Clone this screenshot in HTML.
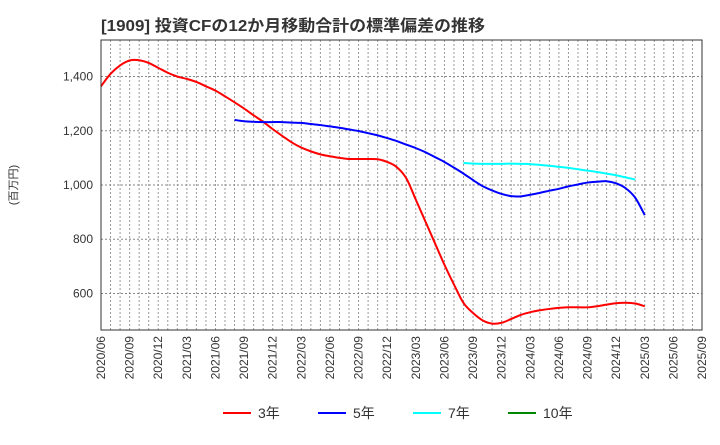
<!DOCTYPE html>
<html><head><meta charset="utf-8"><style>
body{margin:0;background:#fff;font-family:"Liberation Sans","Noto Sans CJK JP",sans-serif;}
</style></head><body>
<svg width="720" height="440" xmlns="http://www.w3.org/2000/svg" id="chart">
<text x="101" y="31" font-size="16" font-weight="bold" fill="#333" textLength="384" lengthAdjust="spacingAndGlyphs" font-family="Liberation Sans, Noto Sans CJK JP, sans-serif">[1909]  投資CFの12か月移動合計の標準偏差の推移</text>
<text transform="translate(17,185) rotate(-90)" text-anchor="middle" font-size="11" fill="#333" font-family="Liberation Sans, Noto Sans CJK JP, sans-serif">(百万円)</text>
<g id="grid"></g><g id="series"></g><g id="axes"></g>
<g font-size="14" fill="#333" font-family="Liberation Sans, Noto Sans CJK JP, sans-serif">
<g><line x1="223" y1="413" x2="251" y2="413" stroke="#f00" stroke-width="2"/><text x="258" y="418">3年</text></g>
<g><line x1="318" y1="413" x2="346" y2="413" stroke="#00f" stroke-width="2"/><text x="353" y="418">5年</text></g>
<g><line x1="413" y1="413" x2="441" y2="413" stroke="#0ff" stroke-width="2"/><text x="448" y="418">7年</text></g>
<g><line x1="508" y1="413" x2="536" y2="413" stroke="#080" stroke-width="2"/><text x="543" y="418">10年</text></g>
</g>
</svg>
<script>
const xLabels=["2020/06","2020/09","2020/12","2021/03","2021/06","2021/09","2021/12","2022/03","2022/06","2022/09","2022/12","2023/03","2023/06","2023/09","2023/12","2024/03","2024/06","2024/09","2024/12","2025/03","2025/06","2025/09"];
const yTicks=[600,800,1000,1200,1400];
const s3=[1364,1410,1441,1459,1460,1450,1432,1414,1400,1391,1380,1364,1348,1327,1305,1282,1257,1233,1206,1181,1157,1138,1124,1113,1106,1100,1096,1096,1096,1095,1085,1066,1025,946,866,786,706,633,565,528,501,489,492,506,521,531,538,543,547,549,549,549,553,559,564,566,563,553];
const s5Start=14;
const s5=[1240,1235,1233,1232,1232,1232,1230,1229,1225,1221,1216,1211,1205,1199,1191,1183,1173,1162,1149,1136,1121,1103,1085,1064,1042,1018,996,980,967,959,958,964,971,979,986,995,1002,1009,1012,1014,1006,988,953,889];
const s7Start=38;
const s7=[1081,1079,1078,1078,1078,1079,1078,1077,1074,1071,1067,1063,1058,1053,1048,1042,1036,1028,1020];
const s10=[];
const L=101,R=702,T=40,B=330,NM=63;
const x=i=>L+(R-L)*i/NM;
const y=v=>185-(v-1000)*0.2712;
const NS="http://www.w3.org/2000/svg";
function mk(t,a,p){const e=document.createElementNS(NS,t);for(const k in a)e.setAttribute(k,a[k]);p.appendChild(e);return e;}
const g=document.getElementById('grid'),ax=document.getElementById('axes'),sr=document.getElementById('series');
for(let i=1;i<NM;i++){const l=mk('line',{x1:x(i),x2:x(i),y1:T,y2:B,stroke:'#999','stroke-width':1,'stroke-dasharray':'2,2'},g);

}
yTicks.forEach(v=>{const l=mk('line',{x1:L,x2:R,y1:y(v),y2:y(v),stroke:'#888','stroke-width':1,'stroke-dasharray':'2,2'},g);


const t=mk('text',{x:L-8,y:y(v)+4,'text-anchor':'end','font-size':12,fill:'#333'},ax);t.textContent=v.toLocaleString('en-US');

});
xLabels.forEach((s,i)=>{const xx=x(i*3);const t=mk('text',{transform:`translate(${xx+4},${B+6}) rotate(-90)`,'text-anchor':'end','font-size':12,fill:'#333'},ax);t.textContent=s;

});
const fr=mk('rect',{x:L,y:T,width:R-L,height:B-T,fill:'none',stroke:'#333','stroke-width':1},ax);


function path(d,st,c,name){if(!d.length)return;const pts=d.map((v,i)=>[x(st+i),y(v)]);let s=`M${pts[0][0]},${pts[0][1]}`;
for(let i=0;i<pts.length-1;i++){const p0=pts[Math.max(0,i-1)],p1=pts[i],p2=pts[i+1],p3=pts[Math.min(pts.length-1,i+2)];
s+=` C${p1[0]+(p2[0]-p0[0])/6},${p1[1]+(p2[1]-p0[1])/6} ${p2[0]-(p3[0]-p1[0])/6},${p2[1]-(p3[1]-p1[1])/6} ${p2[0]},${p2[1]}`;}
const e=mk('path',{d:s,fill:'none',stroke:c,'stroke-width':2,'stroke-linejoin':'round'},sr);

}
path(s3,0,'#f00','line-3y');path(s5,s5Start,'#00f','line-5y');path(s7,s7Start,'#0ff','line-7y');path(s10,0,'#080','line-10y');
</script>
</body></html>
